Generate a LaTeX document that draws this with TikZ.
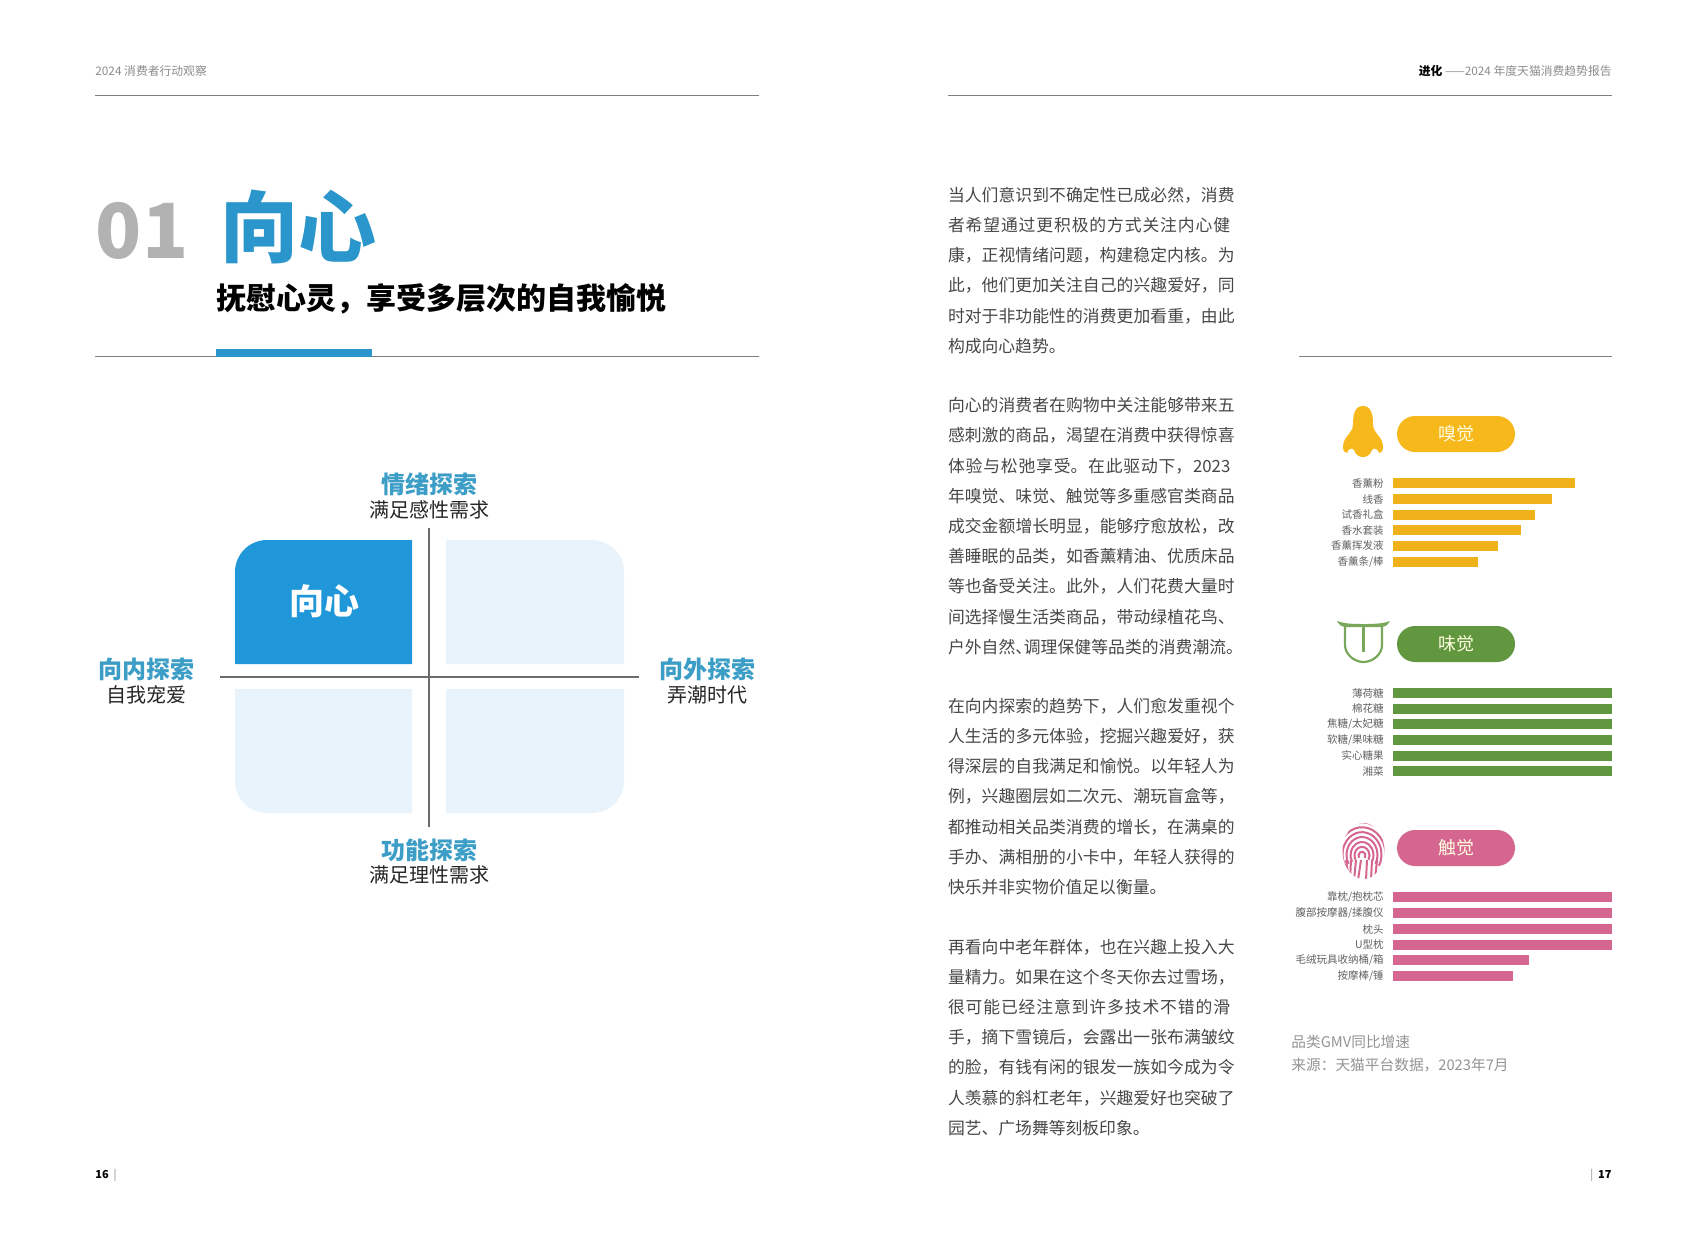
\documentclass[tikz,border=0pt]{standalone}
\usepackage{fontspec}
\setmainfont{Noto Sans CJK SC}
\usepackage{xcolor}
\definecolor{accent}{HTML}{2A96CB}
\definecolor{quadhi}{HTML}{1F97D9}
\definecolor{quadlo}{HTML}{E8F3FB}
\definecolor{axlabel}{HTML}{3C9EC6}
\definecolor{smell}{HTML}{F7B81C}
\definecolor{taste}{HTML}{61983F}
\definecolor{touch}{HTML}{D5668F}
\usetikzlibrary{positioning}
\XeTeXlinebreaklocale "zh"
\XeTeXlinebreakskip=0pt plus 3pt
\tolerance=9999
\hbadness=10000
\hfuzz=20pt
\newcommand{\jl}[1]{{\parfillskip=0pt #1\par}}
% full width comma and colon
\newcommand{\qc}{\char"FF0C\relax}
\newcommand{\qk}{\char"FF1A\relax}
\tikzset{
  rulegray/.style={draw=black!50,line width=0.5pt},
  bodytext/.style={anchor=north west,inner sep=0,outer sep=0,text width=143.5pt,text=black!72,font=\fontsize{8.4pt}{15.1pt}\selectfont},
  axistitle/.style={text=axlabel,inner sep=0,font=\fontsize{12pt}{14pt}\selectfont\bfseries},
  axisnote/.style={text=black!85,inner sep=0,font=\fontsize{10pt}{12pt}\selectfont},
  sensepill/.style={inner sep=0,minimum width=59pt,minimum height=18pt,rounded corners=9pt,text=white!88!yellow,font=\fontsize{9pt}{11pt}\selectfont},
  sensebar/.style={anchor=west,inner sep=0,outer sep=0,minimum height=5pt},
  barlabel/.style={anchor=east,inner sep=0,text=black!62,font=\fontsize{5.25pt}{6pt}\selectfont},
  pagehead/.style={inner sep=0,text=black!45,font=\fontsize{5.9pt}{7pt}\selectfont},
}
\begin{document}
\begin{tikzpicture}[x=0.5pt,y=-0.5pt]
\useasboundingbox (0,0) rectangle (1706,1232);
\fill[white] (0,0) rectangle (1706,1232);

%page heads
\node (headl) at (95,71) [pagehead,anchor=west] {2024 消费者行动观察};
\node (headr) at (1612,71) [pagehead,anchor=east] {{\color{black}\bfseries 进化} ——2024 年度天猫消费趋势报告};
\coordinate (r1a) at (95,95); \coordinate (r1b) at (759,95);
\coordinate (r2a) at (948,95); \coordinate (r2b) at (1612,95);
\draw [rulegray] (r1a) -- (r1b);
\draw [rulegray] (r2a) -- (r2b);

%title block
\node (num) at (142,231) [inner sep=0,text=black!30,font=\fontsize{38pt}{42pt}\selectfont\bfseries] {01};
\node (title) at (298,227) [inner sep=0,text=accent,font=\fontsize{39pt}{43pt}\selectfont\bfseries] {向心};
\node (sub) at (216,299) [anchor=west,inner sep=0,text=black,font=\fontsize{15pt}{18pt}\selectfont\bfseries] {抚慰心灵\qc{}享受多层次的自我愉悦};
\coordinate (r3a) at (95,356); \coordinate (r3b) at (759,356);
\coordinate (r4a) at (1299,356); \coordinate (r4b) at (1612,356);
\draw [rulegray] (r3a) -- (r3b);
\draw [rulegray] (r4a) -- (r4b);
\fill [accent] (216,349) rectangle (372,357);

%quadrants
\fill [quadhi] (412,664) -- (235,664) [rounded corners=16pt] -- (235,540) [sharp corners] -- (412,540) -- cycle;
\fill [quadlo] (446,664) -- (624,664) [rounded corners=16pt] -- (624,540) [sharp corners] -- (446,540) -- cycle;
\fill [quadlo] (412,689) -- (235,689) [rounded corners=16pt] -- (235,813) [sharp corners] -- (412,813) -- cycle;
\fill [quadlo] (446,689) -- (624,689) [rounded corners=16pt] -- (624,813) [sharp corners] -- (446,813) -- cycle;
\node (core) at (324,601) [inner sep=0,text=white,font=\fontsize{17.5pt}{20pt}\selectfont\bfseries] {向心};
%axes
\coordinate (axt) at (429,528); \coordinate (axb) at (429,827);
\coordinate (axl) at (220,677); \coordinate (axr) at (639,677);
\draw [draw=black!58,line width=0.6pt] (axt) -- (axb);
\draw [draw=black!58,line width=0.6pt] (axl) -- (axr);
%axis labels
\node (at) at (429,484) [axistitle] {情绪探索};
\node (nt) at (429,510) [axisnote] {满足感性需求};
\node (al) at (146,669) [axistitle] {向内探索};
\node (nl) at (146,694.5) [axisnote] {自我宠爱};
\node (ar) at (707.5,669) [axistitle] {向外探索};
\node (nr) at (707.5,694.5) [axisnote] {弄潮时代};
\node (ab) at (429,850) [axistitle] {功能探索};
\node (nb) at (429,875) [axisnote] {满足理性需求};

%body text
\node (p1) at (948,187) [bodytext] {
\jl{当人们意识到不确定性已成必然\qc{}消费}
\jl{者希望通过更积极的方式关注内心健}
\jl{康\qc{}正视情绪问题\qc{}构建稳定内核。为}
\jl{此\qc{}他们更加关注自己的兴趣爱好\qc{}同}
\jl{时对于非功能性的消费更加看重\qc{}由此}
构成向心趋势。};
\node (p2) at (948,397.5) [bodytext] {
\jl{向心的消费者在购物中关注能够带来五}
\jl{感刺激的商品\qc{}渴望在消费中获得惊喜}
\jl{体验与松弛享受。在此驱动下\qc{}2023}
\jl{年嗅觉、味觉、触觉等多重感官类商品}
\jl{成交金额增长明显\qc{}能够疗愈放松\qc{}改}
\jl{善睡眠的品类\qc{}如香薰精油、优质床品}
\jl{等也备受关注。此外\qc{}人们花费大量时}
\jl{间选择慢生活类商品\qc{}带动绿植花鸟、}
\jl{户外自然、\kern-.5em 调理保健等品类的消费潮流。\kern-.5em}};
\node (p3) at (948,698) [bodytext] {
\jl{在向内探索的趋势下\qc{}人们愈发重视个}
\jl{人生活的多元体验\qc{}挖掘兴趣爱好\qc{}获}
\jl{得深层的自我满足和愉悦。以年轻人为}
\jl{例\qc{}兴趣圈层如二次元、潮玩盲盒等\qc{}}
\jl{都推动相关品类消费的增长\qc{}在满桌的}
\jl{手办、满相册的小卡中\qc{}年轻人获得的}
快乐并非实物价值足以衡量。};
\node (p4) at (948,939) [bodytext] {
\jl{再看向中老年群体\qc{}也在兴趣上投入大}
\jl{量精力。如果在这个冬天你去过雪场\qc{}}
\jl{很可能已经注意到许多技术不错的滑}
\jl{手\qc{}摘下雪镜后\qc{}会露出一张布满皱纹}
\jl{的脸\qc{}有钱有闲的银发一族如今成为令}
\jl{人羡慕的斜杠老年\qc{}兴趣爱好也突破了}
园艺、广场舞等刻板印象。};

%smell
\fill [smell] (1363,406) .. controls (1355,406) and (1353,414) .. (1353,424) .. controls (1353,434) and (1343,436) .. (1343,447) .. controls (1343,451) and (1345,453) .. (1347,453) .. controls (1348,449) and (1352,447) .. (1354,450) .. controls (1356,455) and (1359,457) .. (1363,457) .. controls (1367,457) and (1370,455) .. (1372,450) .. controls (1374,447) and (1378,449) .. (1379,453) .. controls (1381,453) and (1383,451) .. (1383,447) .. controls (1383,436) and (1373,434) .. (1373,424) .. controls (1373,414) and (1371,406) .. (1363,406) -- cycle;
\node (smellpill) at (1456,434) [sensepill,fill=smell] {嗅觉};
\foreach \y/\e/\lab [count=\i] in {483.3/1575/{香薰粉},499/1552/{线香},514.7/1535/{试香礼盒},530.3/1521/{香水套装},545.7/1498/{香薰挥发液},561.8/1478/{香薰条/棒}}{
  \node (sb\i) at (1393,\y) [sensebar,fill=smell!97!black,minimum width={(\e-1393)*0.5pt}] {};
  \node (sl\i) at (1384,\y) [barlabel] {\lab};
}

%taste
\fill [taste!85!white] (1337,621) .. controls (1345,624) and (1355,624) .. (1363.5,624) .. controls (1372,624) and (1382,624) .. (1390,621) .. controls (1388,625) and (1385,627) .. (1381,627) -- (1346,627) .. controls (1342,627) and (1339,625) .. (1337,621) -- cycle;
\draw [taste!85!white,line width=1.1pt] (1345,626) -- (1345,645) .. controls (1345,655) and (1355,662) .. (1363.5,662) .. controls (1372,662) and (1382,655) .. (1382,645) -- (1382,626);
\draw [taste!85!white,line width=1.1pt] (1363.5,626) -- (1363.5,652);
\node (tastepill) at (1456,644) [sensepill,fill=taste] {味觉};
\foreach \y/\lab [count=\i] in {693/{薄荷糖},708.7/{棉花糖},724.3/{焦糖/太妃糖},740/{软糖/果味糖},755.7/{实心糖果},771.3/{湘菜}}{
  \node (tb\i) at (1393,\y) [sensebar,fill=taste,minimum width=109.5pt] {};
  \node (tl\i) at (1384,\y) [barlabel] {\lab};
}

%touch
\begin{scope}
\clip (1363.5,851) ellipse [x radius=21,y radius=28];
\foreach \r in {3.5,7.5,11.5,15.5,19.5,23.5,27.5}{
  \draw [touch,line width=1pt] (1362,856) ++(150:\r) arc [start angle=150,end angle=390,x radius=\r,y radius=1.15*\r];
}
\foreach \x/\a in {1346/1349,1351/1350,1356/1354,1361/1358,1367/1366,1372/1371,1377/1375}{
  \draw [touch,line width=1pt] (\x,860) -- (\a,880);
}
\end{scope}
\node (touchpill) at (1456,848) [sensepill,fill=touch] {触觉};
\foreach \y/\e/\lab [count=\i] in {897.3/1612/{靠枕/抱枕芯},913.3/1612/{腹部按摩器/揉腹仪},929/1612/{枕头},944.7/1612/{U型枕},960.3/1529/{毛绒玩具收纳桶/箱},976/1513/{按摩棒/锤}}{
  \node (cb\i) at (1393,\y) [sensebar,fill=touch,minimum width={(\e-1393)*0.5pt}] {};
  \node (cl\i) at (1384,\y) [barlabel] {\lab};
}

%source note
\node (src1) at (1291,1042) [anchor=west,inner sep=0,text=black!42,font=\fontsize{7.35pt}{9pt}\selectfont] {品类GMV同比增速};
\node (src2) at (1291,1065) [anchor=west,inner sep=0,text=black!42,font=\fontsize{7.35pt}{9pt}\selectfont] {来源\qk{}天猫平台数据\qc{}2023年7月};

%page numbers
\node (pl) at (95,1175) [anchor=west,inner sep=0,font=\fontsize{5.5pt}{7pt}\selectfont] {\textbf{16}\ \ {\color{black!45}|}};
\node (pr) at (1612,1175) [anchor=east,inner sep=0,font=\fontsize{5.5pt}{7pt}\selectfont] {{\color{black!45}|}\ \ \textbf{17}};
\end{tikzpicture}
\end{document}
